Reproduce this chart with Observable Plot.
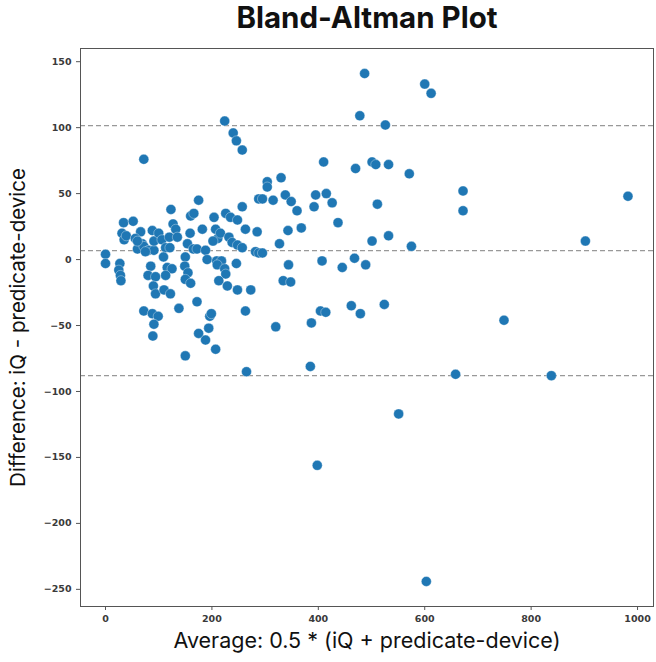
<!DOCTYPE html>
<html>
<head>
<meta charset="utf-8">
<script src="https://cdn.jsdelivr.net/npm/d3@7"></script>
<script src="https://cdn.jsdelivr.net/npm/@observablehq/plot@0.6"></script>
<style>
  html, body { margin: 0; padding: 0; background: #fff; }
  #chart svg { display: block; }
</style>
</head>
<body>
<div id="chart"></div>
<script>
// Average of the two measurements (x) and their difference (y)
const avgValues = [
  0, 0, 27, 25, 28, 29, 31, 35, 39, 34, 52, 66, 56, 69, 60, 72, 81, 91, 91, 88,
  100, 106, 113, 120, 121, 127, 132, 135, 123, 72, 60, 75, 175, 160, 166, 159, 154, 165, 182, 172,
  188, 204, 207, 211, 202, 216, 226, 235, 248, 257, 263, 285, 288, 232, 238, 248, 257, 282, 288, 295,
  224, 240, 246, 257, 304, 304, 330, 295, 315, 338, 349, 360, 368, 343, 327, 395, 392, 415, 426, 437,
  410, 470, 501, 508, 532, 478, 487, 526, 511, 501, 532, 600, 612, 571, 672, 672, 982, 575, 902,
  191, 209, 218, 210, 224, 226, 213, 229, 248, 246, 273, 263, 85, 80, 94, 90, 94, 109, 116, 125,
  113, 110, 122, 150, 149, 155, 150, 160, 172, 138, 72, 88, 99, 91, 89, 150, 175, 188, 194, 196,
  199, 207, 265, 385, 344, 334, 348, 407, 445, 468, 489, 320, 387, 404, 414, 462, 479, 524, 398, 551,
  603, 749, 658, 838
];
const diffValues = [
  4, -3, -3, -8, -12, -16, 20, 15, 18, 28, 29, 21, 16, 12, 8, 10, 7, 7, 14, 22,
  20, 15, 9, 17, 9, 27, 23, 17, 38, 76, 14, 6, 45, 33, 35, 20, 12, 8, 23, 8,
  7, 32, 23, 16, 14, 20, 35, 32, 30, 40, 23, 21, 46, 17, 13, 11, 9, 6, 5, 5,
  105, 96, 90, 83, 59, 55, 62, 46, 45, 49, 44, 37, 24, 22, 12, 49, 40, 50, 43, 28,
  74, 69, 74, 72, 72, 109, 141, 102, 42, 14, 18, 133, 126, 65, 52, 37, 48, 10, 14,
  0, -1, -1, -4, -7, -11, -16, -20, -23, -3, -23, -39, -5, -12, -13, -20, -26, 2, -6, -7,
  -12, -23, -26, 2, -5, -10, -15, -18, -32, -37, -39, -41, -43, -49, -58, -73, -56, -61, -52, -43,
  -41, -68, -85, -81, -4, -16, -17, -1, -6, 1, -4, -51, -48, -39, -40, -35, -41, -34, -156, -117,
  -244, -46, -87, -88
];
// Upper limit of agreement, mean difference, lower limit of agreement
const limitValues = [101.5, 6.8, -88];
const xTicks = [0, 200, 400, 600, 800, 1000];
const yTicks = [-250, -200, -150, -100, -50, 0, 50, 100, 150];
const titleText = "Bland-Altman Plot";
const xLabel = "Average: 0.5 * (iQ + predicate-device)";
const yLabel = "Difference: iQ - predicate-device";

const points = avgValues.map((a, i) => ({avg: a, diff: diffValues[i]}));

const chart = Plot.plot({
  width: 656,
  height: 662,
  marginTop: 48,
  marginLeft: 80,
  marginRight: 3,
  marginBottom: 56,
  style: {fontFamily: "DejaVu Sans", fontSize: "9.5px", background: "#fff"},
  x: {domain: [-47, 1030]},
  y: {domain: [-263, 160]},
  marks: [
    Plot.ruleY(limitValues, {stroke: "#999", strokeWidth: 1.4, strokeDasharray: "5,3"}),
    Plot.dot(points, {x: "avg", y: "diff", r: 5, fill: "#1f77b4", stroke: "white", strokeWidth: 0.35}),
    Plot.frame({stroke: "#555", strokeWidth: 1}),
    Plot.axisX({ticks: xTicks, tickFormat: d => String(d), tickSize: 4, tickPadding: 5, label: null, fontWeight: "bold", fill: "#3a3a3a", stroke: "#555"}),
    Plot.axisY({ticks: yTicks, tickFormat: d => d < 0 ? "\u2212" + Math.abs(d) : String(d), tickSize: 4, tickPadding: 5, label: null, fontWeight: "bold", fill: "#3a3a3a", stroke: "#555"}),
    Plot.text([titleText], {frameAnchor: "top", dy: -30, fontSize: 29.5, fontWeight: "bold", fontFamily: "Inter", fill: "#111", lineAnchor: "middle"}),
    Plot.text([xLabel], {frameAnchor: "bottom", dy: 35, fontSize: 21.5, fontFamily: "Inter", fill: "#111", lineAnchor: "middle"}),
    Plot.text([yLabel], {frameAnchor: "left", textAnchor: "middle", dx: -62, rotate: -90, fontSize: 20.5, fontFamily: "Inter", fill: "#111", lineAnchor: "middle"})
  ]
});
document.getElementById("chart").appendChild(chart);
</script>
</body>
</html>
